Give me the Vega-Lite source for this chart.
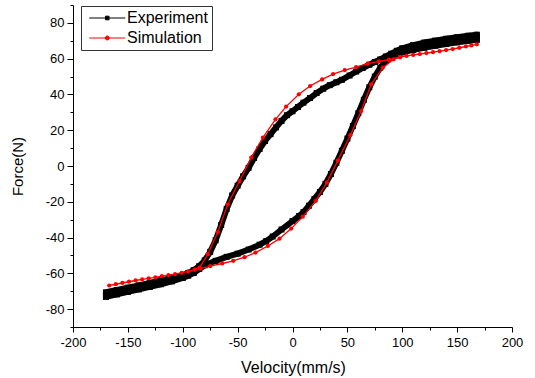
{
  "$schema": "https://vega.github.io/schema/vega-lite/v6.json",
  "width": 439,
  "height": 322,
  "autosize": {"type": "none"},
  "padding": {"left": 73, "top": 5, "right": 23, "bottom": 51},
  "background": "white",
  "config": {
    "view": {"stroke": null},
    "font": "Liberation Sans",
    "axis": {
      "grid": false,
      "domainColor": "black",
      "domainWidth": 1,
      "tickColor": "black",
      "tickWidth": 1,
      "labelFont": "Liberation Sans",
      "labelFontSize": 13,
      "labelColor": "black",
      "labelFlush": false,
      "labelOverlap": false,
      "titleFont": "Liberation Sans",
      "titleFontWeight": "normal",
      "titleColor": "black"
    }
  },
  "datasets": {
    "pts": [
      {"s": "Experiment", "p": "E", "i": 1, "v": -170, "F": -73.2},
      {"s": "Experiment", "p": "E", "i": 2, "v": -160, "F": -71.8},
      {"s": "Experiment", "p": "E", "i": 3, "v": -150, "F": -70.4},
      {"s": "Experiment", "p": "E", "i": 4, "v": -140, "F": -69.0},
      {"s": "Experiment", "p": "E", "i": 5, "v": -130, "F": -67.6},
      {"s": "Experiment", "p": "E", "i": 6, "v": -120, "F": -66.1},
      {"s": "Experiment", "p": "E", "i": 7, "v": -110, "F": -64.5},
      {"s": "Experiment", "p": "E", "i": 8, "v": -100, "F": -62.6},
      {"s": "Experiment", "p": "E", "i": 9, "v": -95, "F": -61.3},
      {"s": "Experiment", "p": "E", "i": 10, "v": -90, "F": -59.8},
      {"s": "Experiment", "p": "E", "i": 11, "v": -85, "F": -57.6},
      {"s": "Experiment", "p": "E", "i": 12, "v": -80, "F": -55.5},
      {"s": "Experiment", "p": "E", "i": 13, "v": -70, "F": -53.0},
      {"s": "Experiment", "p": "E", "i": 14, "v": -60, "F": -50.8},
      {"s": "Experiment", "p": "E", "i": 15, "v": -50, "F": -49.0},
      {"s": "Experiment", "p": "E", "i": 16, "v": -40, "F": -46.7},
      {"s": "Experiment", "p": "E", "i": 17, "v": -30, "F": -44.0},
      {"s": "Experiment", "p": "E", "i": 18, "v": -24, "F": -42.0},
      {"s": "Experiment", "p": "E", "i": 19, "v": -18, "F": -39.4},
      {"s": "Experiment", "p": "E", "i": 20, "v": -10, "F": -35.5},
      {"s": "Experiment", "p": "E", "i": 21, "v": 0, "F": -30.8},
      {"s": "Experiment", "p": "E", "i": 22, "v": 6, "F": -28.0},
      {"s": "Experiment", "p": "E", "i": 23, "v": 10, "F": -25.8},
      {"s": "Experiment", "p": "E", "i": 24, "v": 15, "F": -22.2},
      {"s": "Experiment", "p": "E", "i": 25, "v": 20, "F": -18.4},
      {"s": "Experiment", "p": "E", "i": 26, "v": 25, "F": -14.5},
      {"s": "Experiment", "p": "E", "i": 27, "v": 30, "F": -10.0},
      {"s": "Experiment", "p": "E", "i": 28, "v": 35, "F": -4.5},
      {"s": "Experiment", "p": "E", "i": 29, "v": 40, "F": 1.8},
      {"s": "Experiment", "p": "E", "i": 30, "v": 45, "F": 8.5},
      {"s": "Experiment", "p": "E", "i": 31, "v": 50, "F": 15.3},
      {"s": "Experiment", "p": "E", "i": 32, "v": 55, "F": 22.3},
      {"s": "Experiment", "p": "E", "i": 33, "v": 60, "F": 29.5},
      {"s": "Experiment", "p": "E", "i": 34, "v": 65, "F": 37.0},
      {"s": "Experiment", "p": "E", "i": 35, "v": 70, "F": 44.0},
      {"s": "Experiment", "p": "E", "i": 36, "v": 75, "F": 50.0},
      {"s": "Experiment", "p": "E", "i": 37, "v": 80, "F": 55.0},
      {"s": "Experiment", "p": "E", "i": 38, "v": 85, "F": 58.7},
      {"s": "Experiment", "p": "E", "i": 39, "v": 90, "F": 61.2},
      {"s": "Experiment", "p": "E", "i": 40, "v": 95, "F": 62.6},
      {"s": "Experiment", "p": "E", "i": 41, "v": 100, "F": 63.5},
      {"s": "Experiment", "p": "E", "i": 42, "v": 110, "F": 64.9},
      {"s": "Experiment", "p": "E", "i": 43, "v": 120, "F": 66.1},
      {"s": "Experiment", "p": "E", "i": 44, "v": 130, "F": 67.2},
      {"s": "Experiment", "p": "E", "i": 45, "v": 140, "F": 68.2},
      {"s": "Experiment", "p": "E", "i": 46, "v": 150, "F": 69.1},
      {"s": "Experiment", "p": "E", "i": 47, "v": 160, "F": 69.9},
      {"s": "Experiment", "p": "E", "i": 48, "v": 168, "F": 70.5},
      {"s": "Experiment", "p": "E", "i": 49, "v": 168, "F": 73.4},
      {"s": "Experiment", "p": "E", "i": 50, "v": 160, "F": 72.8},
      {"s": "Experiment", "p": "E", "i": 51, "v": 150, "F": 72.0},
      {"s": "Experiment", "p": "E", "i": 52, "v": 140, "F": 71.1},
      {"s": "Experiment", "p": "E", "i": 53, "v": 130, "F": 70.1},
      {"s": "Experiment", "p": "E", "i": 54, "v": 120, "F": 69.0},
      {"s": "Experiment", "p": "E", "i": 55, "v": 110, "F": 67.6},
      {"s": "Experiment", "p": "E", "i": 56, "v": 100, "F": 65.8},
      {"s": "Experiment", "p": "E", "i": 57, "v": 95, "F": 64.4},
      {"s": "Experiment", "p": "E", "i": 58, "v": 90, "F": 62.8},
      {"s": "Experiment", "p": "E", "i": 59, "v": 85, "F": 61.2},
      {"s": "Experiment", "p": "E", "i": 60, "v": 80, "F": 59.6},
      {"s": "Experiment", "p": "E", "i": 61, "v": 75, "F": 58.1},
      {"s": "Experiment", "p": "E", "i": 62, "v": 70, "F": 56.6},
      {"s": "Experiment", "p": "E", "i": 63, "v": 64, "F": 54.8},
      {"s": "Experiment", "p": "E", "i": 64, "v": 58, "F": 52.8},
      {"s": "Experiment", "p": "E", "i": 65, "v": 52, "F": 50.6},
      {"s": "Experiment", "p": "E", "i": 66, "v": 45, "F": 48.2},
      {"s": "Experiment", "p": "E", "i": 67, "v": 40, "F": 46.8},
      {"s": "Experiment", "p": "E", "i": 68, "v": 34, "F": 45.2},
      {"s": "Experiment", "p": "E", "i": 69, "v": 28, "F": 43.2},
      {"s": "Experiment", "p": "E", "i": 70, "v": 22, "F": 40.8},
      {"s": "Experiment", "p": "E", "i": 71, "v": 16, "F": 38.0},
      {"s": "Experiment", "p": "E", "i": 72, "v": 10, "F": 35.4},
      {"s": "Experiment", "p": "E", "i": 73, "v": 5, "F": 33.0},
      {"s": "Experiment", "p": "E", "i": 74, "v": 0, "F": 30.6},
      {"s": "Experiment", "p": "E", "i": 75, "v": -5, "F": 28.4},
      {"s": "Experiment", "p": "E", "i": 76, "v": -10, "F": 25.2},
      {"s": "Experiment", "p": "E", "i": 77, "v": -15, "F": 21.6},
      {"s": "Experiment", "p": "E", "i": 78, "v": -20, "F": 17.8},
      {"s": "Experiment", "p": "E", "i": 79, "v": -25, "F": 14.0},
      {"s": "Experiment", "p": "E", "i": 80, "v": -30, "F": 9.5},
      {"s": "Experiment", "p": "E", "i": 81, "v": -35, "F": 4.5},
      {"s": "Experiment", "p": "E", "i": 82, "v": -40, "F": -1.0},
      {"s": "Experiment", "p": "E", "i": 83, "v": -45, "F": -5.8},
      {"s": "Experiment", "p": "E", "i": 84, "v": -50, "F": -11.0},
      {"s": "Experiment", "p": "E", "i": 85, "v": -55, "F": -16.5},
      {"s": "Experiment", "p": "E", "i": 86, "v": -60, "F": -24.0},
      {"s": "Experiment", "p": "E", "i": 87, "v": -65, "F": -33.0},
      {"s": "Experiment", "p": "E", "i": 88, "v": -70, "F": -41.5},
      {"s": "Experiment", "p": "E", "i": 89, "v": -75, "F": -48.0},
      {"s": "Experiment", "p": "E", "i": 90, "v": -80, "F": -52.8},
      {"s": "Experiment", "p": "E", "i": 91, "v": -85, "F": -56.0},
      {"s": "Experiment", "p": "E", "i": 92, "v": -90, "F": -58.2},
      {"s": "Experiment", "p": "E", "i": 93, "v": -95, "F": -59.8},
      {"s": "Experiment", "p": "E", "i": 94, "v": -100, "F": -61.0},
      {"s": "Experiment", "p": "E", "i": 95, "v": -110, "F": -62.5},
      {"s": "Experiment", "p": "E", "i": 96, "v": -120, "F": -63.9},
      {"s": "Experiment", "p": "E", "i": 97, "v": -130, "F": -65.3},
      {"s": "Experiment", "p": "E", "i": 98, "v": -140, "F": -66.7},
      {"s": "Experiment", "p": "E", "i": 99, "v": -150, "F": -68.0},
      {"s": "Experiment", "p": "E", "i": 100, "v": -160, "F": -69.3},
      {"s": "Experiment", "p": "E", "i": 101, "v": -170, "F": -70.6},

      {"s": "Simulation", "p": "S1", "i": 1, "v": -167, "F": -66.8},
      {"s": "Simulation", "p": "S1", "i": 2, "v": -161, "F": -66.1},
      {"s": "Simulation", "p": "S1", "i": 3, "v": -155, "F": -65.4},
      {"s": "Simulation", "p": "S1", "i": 4, "v": -149, "F": -64.7},
      {"s": "Simulation", "p": "S1", "i": 5, "v": -143, "F": -64.0},
      {"s": "Simulation", "p": "S1", "i": 6, "v": -137, "F": -63.4},
      {"s": "Simulation", "p": "S1", "i": 7, "v": -131, "F": -62.8},
      {"s": "Simulation", "p": "S1", "i": 8, "v": -125, "F": -62.2},
      {"s": "Simulation", "p": "S1", "i": 9, "v": -119, "F": -61.6},
      {"s": "Simulation", "p": "S1", "i": 10, "v": -113, "F": -61.0},
      {"s": "Simulation", "p": "S1", "i": 11, "v": -107, "F": -60.4},
      {"s": "Simulation", "p": "S1", "i": 12, "v": -101, "F": -59.7},
      {"s": "Simulation", "p": "S1", "i": 13, "v": -95, "F": -58.9},
      {"s": "Simulation", "p": "S1", "i": 14, "v": -89, "F": -57.9},
      {"s": "Simulation", "p": "S1", "i": 15, "v": -84, "F": -57.4},
      {"s": "Simulation", "p": "S1", "i": 16, "v": -75, "F": -56.0},
      {"s": "Simulation", "p": "S1", "i": 17, "v": -64, "F": -54.5},
      {"s": "Simulation", "p": "S1", "i": 18, "v": -54, "F": -53.0},
      {"s": "Simulation", "p": "S1", "i": 19, "v": -43.7, "F": -51.0},
      {"s": "Simulation", "p": "S1", "i": 20, "v": -33.7, "F": -48.4},
      {"s": "Simulation", "p": "S1", "i": 21, "v": -22.5, "F": -44.7},
      {"s": "Simulation", "p": "S1", "i": 22, "v": -11.8, "F": -40.6},
      {"s": "Simulation", "p": "S1", "i": 23, "v": -1.2, "F": -35.0},
      {"s": "Simulation", "p": "S1", "i": 24, "v": 9.4, "F": -28.3},
      {"s": "Simulation", "p": "S1", "i": 25, "v": 21, "F": -19.6},
      {"s": "Simulation", "p": "S1", "i": 26, "v": 31.3, "F": -9.3},
      {"s": "Simulation", "p": "S1", "i": 27, "v": 41.3, "F": 3.0},
      {"s": "Simulation", "p": "S1", "i": 28, "v": 52.7, "F": 17.2},
      {"s": "Simulation", "p": "S1", "i": 29, "v": 62.6, "F": 30.7},
      {"s": "Simulation", "p": "S1", "i": 30, "v": 71.7, "F": 45.6},
      {"s": "Simulation", "p": "S1", "i": 31, "v": 82.3, "F": 55.0},
      {"s": "Simulation", "p": "S1", "i": 32, "v": 92, "F": 59.6},
      {"s": "Simulation", "p": "S1", "i": 33, "v": 98, "F": 60.8},
      {"s": "Simulation", "p": "S1", "i": 34, "v": 104, "F": 61.5},
      {"s": "Simulation", "p": "S1", "i": 35, "v": 110, "F": 62.1},
      {"s": "Simulation", "p": "S1", "i": 36, "v": 116, "F": 62.6},
      {"s": "Simulation", "p": "S1", "i": 37, "v": 122, "F": 63.1},
      {"s": "Simulation", "p": "S1", "i": 38, "v": 128, "F": 63.6},
      {"s": "Simulation", "p": "S1", "i": 39, "v": 134, "F": 64.2},
      {"s": "Simulation", "p": "S1", "i": 40, "v": 140, "F": 64.8},
      {"s": "Simulation", "p": "S1", "i": 41, "v": 146, "F": 65.4},
      {"s": "Simulation", "p": "S1", "i": 42, "v": 152, "F": 66.1},
      {"s": "Simulation", "p": "S1", "i": 43, "v": 158, "F": 66.8},
      {"s": "Simulation", "p": "S1", "i": 44, "v": 163, "F": 67.4},
      {"s": "Simulation", "p": "S1", "i": 45, "v": 168, "F": 68.0},

      {"s": "Simulation", "p": "S2", "i": 1, "v": 98, "F": 60.8},
      {"s": "Simulation", "p": "S2", "i": 2, "v": 88, "F": 59.4},
      {"s": "Simulation", "p": "S2", "i": 3, "v": 78.7, "F": 58.5},
      {"s": "Simulation", "p": "S2", "i": 4, "v": 68.6, "F": 57.2},
      {"s": "Simulation", "p": "S2", "i": 5, "v": 58, "F": 55.3},
      {"s": "Simulation", "p": "S2", "i": 6, "v": 47.6, "F": 53.6},
      {"s": "Simulation", "p": "S2", "i": 7, "v": 37, "F": 51.4},
      {"s": "Simulation", "p": "S2", "i": 8, "v": 27, "F": 48.4},
      {"s": "Simulation", "p": "S2", "i": 9, "v": 16.1, "F": 44.7},
      {"s": "Simulation", "p": "S2", "i": 10, "v": 5.8, "F": 40.1},
      {"s": "Simulation", "p": "S2", "i": 11, "v": -5.8, "F": 33.2},
      {"s": "Simulation", "p": "S2", "i": 12, "v": -15.5, "F": 26.1},
      {"s": "Simulation", "p": "S2", "i": 13, "v": -27, "F": 15.9},
      {"s": "Simulation", "p": "S2", "i": 14, "v": -37.6, "F": 4.7},
      {"s": "Simulation", "p": "S2", "i": 15, "v": -48.3, "F": -8.4},
      {"s": "Simulation", "p": "S2", "i": 16, "v": -59, "F": -21.4},
      {"s": "Simulation", "p": "S2", "i": 17, "v": -68, "F": -36.9},
      {"s": "Simulation", "p": "S2", "i": 18, "v": -77.2, "F": -49.3},
      {"s": "Simulation", "p": "S2", "i": 19, "v": -84.7, "F": -56.8},
      {"s": "Simulation", "p": "S2", "i": 20, "v": -89, "F": -57.9}
    ]
  },
  "data": {"name": "pts"},
  "encoding": {
    "x": {
      "field": "v", "type": "quantitative",
      "scale": {"domain": [-200, 200], "nice": false, "zero": false},
      "axis": {
        "title": "Velocity(mm/s)",
        "titleFontSize": 16,
        "titleX": 220, "titleY": 45,
        "titleBaseline": "alphabetic",
        "values": [-200,-175,-150,-125,-100,-75,-50,-25,0,25,50,75,100,125,150,175,200],
        "labelExpr": "datum.value % 50 === 0 ? '' + datum.value : ''",
        "tickSize": {"condition": {"test": "datum.value % 50 === 0", "value": 5}, "value": 3},
        "labelPadding": 4
      }
    },
    "y": {
      "field": "F", "type": "quantitative",
      "scale": {"domain": [-90, 90], "nice": false, "zero": false},
      "axis": {
        "title": "Force(N)",
        "titleFontSize": 15,
        "titleAngle": 270,
        "titleX": -51, "titleY": 161,
        "titleAlign": "center",
        "titleBaseline": "alphabetic",
        "values": [-90,-80,-70,-60,-50,-40,-30,-20,-10,0,10,20,30,40,50,60,70,80,90],
        "labelExpr": "datum.value % 20 === 0 ? '' + datum.value : ''",
        "tickSize": {"condition": {"test": "datum.value % 20 === 0", "value": 6}, "value": 3},
        "labelPadding": 3
      }
    },
    "color": {
      "field": "s", "type": "nominal",
      "scale": {"domain": ["Experiment", "Simulation"], "range": ["#000000", "#ff0000"]},
      "legend": {
        "title": null,
        "orient": "none",
        "legendX": 8,
        "legendY": 1,
        "padding": 4,
        "rowPadding": 4,
        "strokeColor": "#333333",
        "fillColor": "white",
        "labelFont": "Liberation Sans",
        "labelFontSize": 16,
        "labelColor": "black",
        "labelOffset": 26,
        "labelLimit": 200,
        "symbolSize": 100,
        "symbolStrokeWidth": 1,
        "encode": {
          "symbols": {
            "update": {
              "shape": {"signal": "datum.value === 'Experiment' ? 'M-0.75,0H6.45M2.49,-0.36H3.21V0.36H2.49Z' : 'M-0.75,0H6.45M3.25,0A0.4,0.4,0,1,1,2.45,0A0.4,0.4,0,1,1,3.25,0Z'"},
              "fill": {"signal": "datum.value === 'Experiment' ? '#000000' : '#ff0000'"},
              "stroke": {"signal": "datum.value === 'Experiment' ? '#000000' : '#ff0000'"},
              "strokeWidth": {"value": 1},
              "opacity": {"value": 1}
            }
          }
        }
      }
    }
  },
  "layer": [
    {
      "transform": [{"filter": "datum.s === 'Experiment'"}],
      "mark": {"type": "line", "strokeWidth": 6, "strokeJoin": "round"},
      "encoding": {"detail": {"field": "p"}, "order": {"field": "i", "type": "quantitative"}}
    },
    {
      "transform": [{"filter": "datum.s === 'Experiment'"}],
      "mark": {"type": "point", "shape": "square", "filled": true, "size": 36, "opacity": 1}
    },
    {
      "transform": [{"filter": "datum.s === 'Simulation'"}],
      "mark": {"type": "line", "strokeWidth": 1.3},
      "encoding": {"detail": {"field": "p"}, "order": {"field": "i", "type": "quantitative"}}
    },
    {
      "transform": [{"filter": "datum.s === 'Simulation'"}],
      "mark": {"type": "point", "shape": "circle", "filled": true, "size": 18, "opacity": 1}
    }
  ]
}
